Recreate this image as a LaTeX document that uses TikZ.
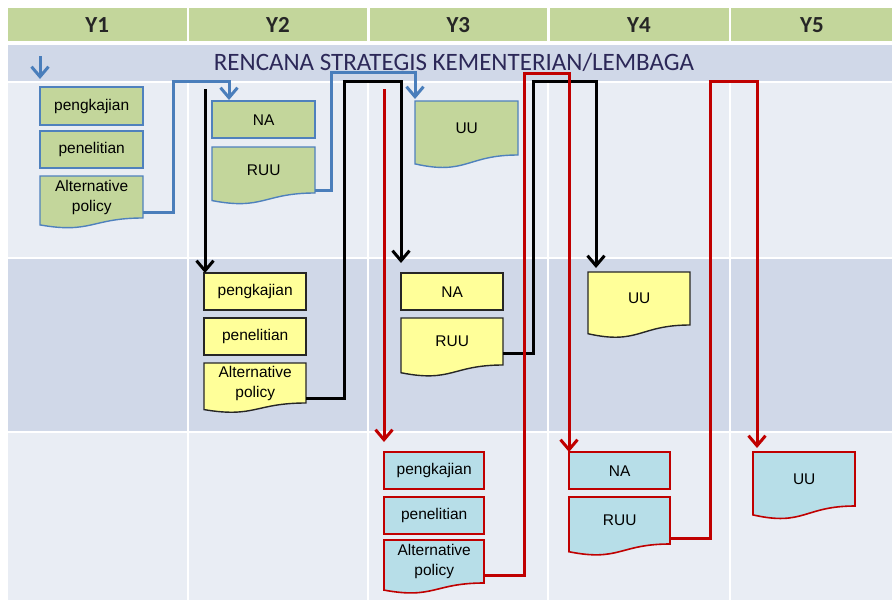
\documentclass[tikz,border=0pt]{standalone}
\usepackage{fontspec}
\setmainfont{Liberation Sans}
\newfontfamily\carlito{Carlito}
\usetikzlibrary{arrows.meta,calc}
\definecolor{hdrgreen}{HTML}{C3D69B}
\definecolor{rowdark}{HTML}{D0D8E8}
\definecolor{rowlight}{HTML}{E9EDF4}
\definecolor{gfill}{HTML}{C3D69B}
\definecolor{gline}{HTML}{4F81BD}
\definecolor{yfill}{HTML}{FFFF99}
\definecolor{yline}{HTML}{262626}
\definecolor{bfill}{HTML}{B7DEE8}
\definecolor{bline}{HTML}{C00000}
\definecolor{bluecon}{HTML}{4A7EBB}
\definecolor{redcon}{HTML}{C00000}
\definecolor{titletext}{HTML}{2C2858}
\tikzset{
  boxtext/.style={inner sep=0pt, align=center, text=black,
    font=\fontsize{15.5}{20}\selectfont, anchor=north west},
  gshape/.style={fill=gfill, draw=gline, line width=1.4pt},
  yshape/.style={fill=yfill, draw=yline, line width=1.4pt},
  bshape/.style={fill=bfill, draw=bline, line width=1.6pt},
  hdrtext/.style={font=\carlito\bfseries\fontsize{23}{26}\selectfont, text=black!85},
  conn/.style={line width=3pt, -{Straight Barb[length=10pt,width=17pt,line width=3pt]}},
  blueconn/.style={conn, draw=bluecon},
  blackconn/.style={conn, draw=black},
  redconn/.style={conn, draw=redcon},
}
% style, name, x, y, w, h, text
\newcommand\rectbox[7]{%
  \path[#1] (#3,#4) rectangle ({#3+#5},{#4+#6});
  \node[boxtext, minimum width=#5pt, minimum height=#6pt] (#2) at (#3,#4) {#7};}
% style, name, x, y, w, hr, text  (document shape with wavy bottom)
\newcommand\docbox[7]{%
  \path[#1] (#3,#4) -- ({#3+#5},#4) -- ({#3+#5},{#4+#6})
    .. controls ({#3+#5/2},{#4+#6}) and ({#3+#5/2},{#4+1.380*#6}) ..
    (#3,{#4+1.1646*#6}) -- cycle;
  \node[boxtext, minimum width=#5pt, minimum height=#6pt] (#2) at (#3,#4) {#7};}
\begin{document}
\begin{tikzpicture}[x=1pt,y=-1pt]
\useasboundingbox (0,0) rectangle (892,600);
\fill[white] (0,0) rectangle (892,600);
% header row
\fill[hdrgreen] (8,8) rectangle (186.6,41);
\fill[hdrgreen] (189,8) rectangle (367,41);
\fill[hdrgreen] (369.5,8) rectangle (547,41);
\fill[hdrgreen] (549.5,8) rectangle (728.5,41);
\fill[hdrgreen] (731,8) rectangle (892,41);
\node[hdrtext] (h1) at (97.3,25) {Y1};
\node[hdrtext] (h2) at (278,25) {Y2};
\node[hdrtext] (h3) at (458.3,25) {Y3};
\node[hdrtext] (h4) at (639,25) {Y4};
\node[hdrtext] (h5) at (812,25) {Y5};
% band rows
\fill[rowdark] (8,44.5) rectangle (892,80.5);
\fill[rowlight] (8,82.5) rectangle (892,256.5);
\fill[rowdark] (8,258.5) rectangle (892,430.5);
\fill[rowlight] (8,432.5) rectangle (892,600);
\foreach \xx in {187.8,368.3,548.3,729.8}
  \draw[white, line width=2.2pt] (\xx,82.5) -- (\xx,600);
\node[font=\carlito\fontsize{25}{28}\selectfont, text=titletext] (title) at (454,62.5)
  {RENCANA STRATEGIS KEMENTERIAN/LEMBAGA};
% green boxes (row 1)
\rectbox{gshape}{g1p}{40}{87}{103}{38}{pengkajian}
\rectbox{gshape}{g1r}{40}{131}{103}{37}{penelitian}
\docbox{gshape}{g1a}{40}{176}{103}{42}{Alternative\\policy}
\rectbox{gshape}{g2na}{212}{101}{103}{37}{NA}
\docbox{gshape}{g2ruu}{212}{147}{103}{46}{RUU}
\docbox{gshape}{g3uu}{415}{101}{103}{54}{UU}
% yellow boxes (row 2)
\rectbox{yshape}{y2p}{204}{273}{102}{37}{pengkajian}
\rectbox{yshape}{y2r}{204}{318}{102}{37}{penelitian}
\docbox{yshape}{y2a}{204}{363}{102}{40}{Alternative\\policy}
\rectbox{yshape}{y3na}{401}{273}{102}{37}{NA}
\docbox{yshape}{y3ruu}{401}{318}{102}{47}{RUU}
\docbox{yshape}{y4uu}{588}{272}{102}{53}{UU}
% blue boxes (row 3)
\rectbox{bshape}{b3p}{384}{452}{100}{37}{pengkajian}
\rectbox{bshape}{b3r}{384}{497}{100}{37}{penelitian}
\docbox{bshape}{b3a}{384}{540}{100}{43}{Alternative\\policy}
\rectbox{bshape}{b4na}{569}{452}{101}{37}{NA}
\docbox{bshape}{b4ruu}{569}{497}{101}{47}{RUU}
\docbox{bshape}{b5uu}{753}{452}{102}{54}{UU}
% blue connectors
\coordinate (bstart) at (40,56);
\coordinate (bend) at (40,79);
\draw[blueconn] (bstart) -- (bend);
\draw[blueconn, shorten >=1pt] ([yshift=-15pt]g1a.east) -| (173,81) -| ([xshift=17pt]g2na.north west);
\draw[blueconn, shorten >=2pt] ([yshift=-20pt]g2ruu.east) -| (331,72) -| (g3uu.north west);
% black connectors
\coordinate (kstart) at (205,89);
\draw[blackconn] (kstart) -- ([xshift=1pt]y2p.north west);
\draw[blackconn, shorten >=10pt] ([yshift=-15pt]y2a.east) -| (344,81) -| (y3na.north west);
\draw[blackconn, shorten >=4pt] ([yshift=-11.5pt]y3ruu.east) -| (533,81) -| ([xshift=8pt]y4uu.north west);
% red connectors
\coordinate (rstart) at (384,89);
\draw[redconn, shorten >=10pt] (rstart) -- (b3p.north west);
\draw[redconn] ([yshift=-13.5pt]b3a.east) -| (524,73) -| (b4na.north west);
\draw[redconn, shorten >=4pt] ([yshift=-17.5pt]b4ruu.east) -| (710,81) -| ([xshift=4pt]b5uu.north west);
\end{tikzpicture}
\end{document}
